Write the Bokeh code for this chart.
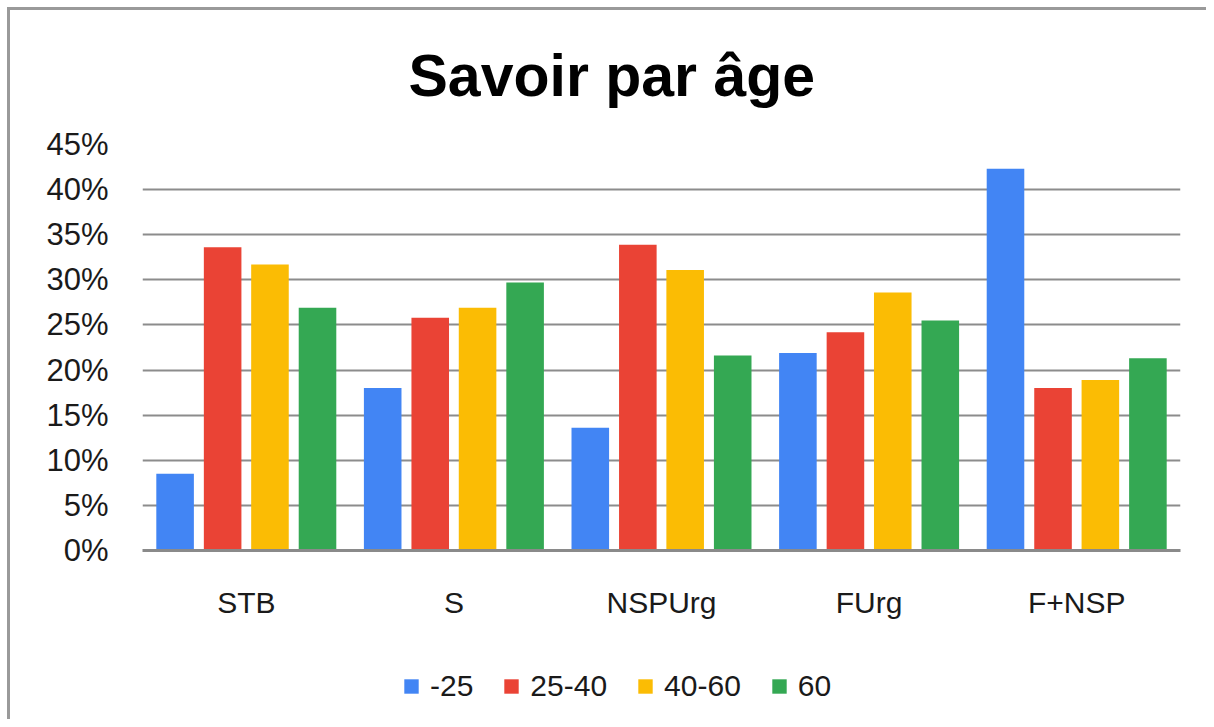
from bokeh.plotting import figure
from bokeh.models import ColumnDataSource, FactorRange, Range1d, FixedTicker, NumeralTickFormatter, Legend, LegendItem, Title
from bokeh.layouts import column
from bokeh.transform import dodge
from bokeh.embed import file_html
from bokeh.resources import INLINE

categories = ["STB", "S", "NSPUrg", "FUrg", "F+NSP"]
series_names = ["-25", "25-40", "40-60", "60"]
s_m25 = [0.085, 0.180, 0.136, 0.219, 0.423]
s_25_40 = [0.336, 0.258, 0.339, 0.242, 0.180]
s_40_60 = [0.317, 0.269, 0.311, 0.286, 0.189]
s_60 = [0.269, 0.297, 0.216, 0.255, 0.213]
y_ticks = [0.0, 0.05, 0.10, 0.15, 0.20, 0.25, 0.30, 0.35, 0.40, 0.45]
colors = ["#4285F4", "#EA4335", "#FBBC04", "#34A853"]

FONT = "Liberation Sans"

source = ColumnDataSource(data=dict(cat=categories, m25=s_m25, a25_40=s_25_40, a40_60=s_40_60, a60=s_60))
cols = ["m25", "a25_40", "a40_60", "a60"]
offsets = [-0.343, -0.114, 0.114, 0.343]

# ---------------- main chart ----------------
p = figure(
    x_range=FactorRange(*categories, range_padding=0),
    y_range=Range1d(0, 0.45),
    frame_width=1038, frame_height=406,
    output_backend="svg", toolbar_location=None,
    min_border_left=132, min_border_right=26, min_border_top=134, min_border_bottom=100,
)

p.title.text = "Savoir par âge"
p.title.text_font = FONT
p.title.text_font_size = "59px"
p.title.text_font_style = "bold"
p.title.text_color = "#000000"
p.title.align = "left"
p.title.offset = 266
p.title.standoff = 46

# spacer between title and plot area
p.add_layout(Title(text="\u00a0", text_font=FONT, text_font_size="10px", standoff=0), "above")

for col, off, c in zip(cols, offsets, colors):
    p.vbar(x=dodge("cat", off, range=p.x_range), top=col, width=0.181, source=source,
           fill_color=c, line_color=None)

p.outline_line_color = None
p.xgrid.grid_line_color = None
p.ygrid.grid_line_color = "#8c8c8c"
p.ygrid.grid_line_width = 2
p.yaxis.ticker = FixedTicker(ticks=y_ticks)
p.yaxis.formatter = NumeralTickFormatter(format="0%")
p.yaxis.axis_line_color = None
p.yaxis.major_tick_line_color = None
p.yaxis.minor_tick_line_color = None
p.yaxis.major_label_text_font = FONT
p.yaxis.major_label_text_font_size = "31px"
p.yaxis.major_label_text_color = "#1a1a1a"
p.yaxis.major_label_standoff = 28

p.xaxis.axis_line_color = "#8a8a8a"
p.xaxis.axis_line_width = 3
p.xaxis.major_tick_line_color = None
p.xaxis.minor_tick_line_color = None
p.xaxis.major_label_text_font = FONT
p.xaxis.major_label_text_font_size = "30px"
p.xaxis.major_label_text_color = "#1a1a1a"
p.xaxis.major_label_standoff = 29

# ---------------- legend strip ----------------
pl = figure(
    x_range=FactorRange(*categories, range_padding=0),
    y_range=Range1d(1, 2),
    width=1196, height=69,
    output_backend="svg", toolbar_location=None, min_border=0,
)
pl.axis.visible = False
pl.grid.grid_line_color = None
pl.outline_line_color = None
leg_renderers = []
for c in colors:
    # zero-height proxy bars outside the view: they only supply the legend swatches
    r = pl.vbar(x=[categories[0]], top=[0], bottom=[0], width=0.181, fill_color=c, line_color=None)
    leg_renderers.append(r)

items = [LegendItem(label=n, renderers=[r], index=0) for n, r in zip(series_names, leg_renderers)]
legend = Legend(items=items, orientation="horizontal", location=(260, 16),
                glyph_width=18, glyph_height=18, label_standoff=10, spacing=29,
                label_text_font=FONT, label_text_font_size="30px", label_text_color="#1a1a1a",
                border_line_color=None, background_fill_alpha=0, padding=0, margin=0)
pl.add_layout(legend, "center")

layout = column(p, pl, spacing=0,
                styles={"margin-left": "7px", "margin-top": "7px",
                        "border-left": "3px solid #9a9a9a", "border-top": "3px solid #9a9a9a"})

open("out.html", "w").write(file_html(layout, INLINE))
